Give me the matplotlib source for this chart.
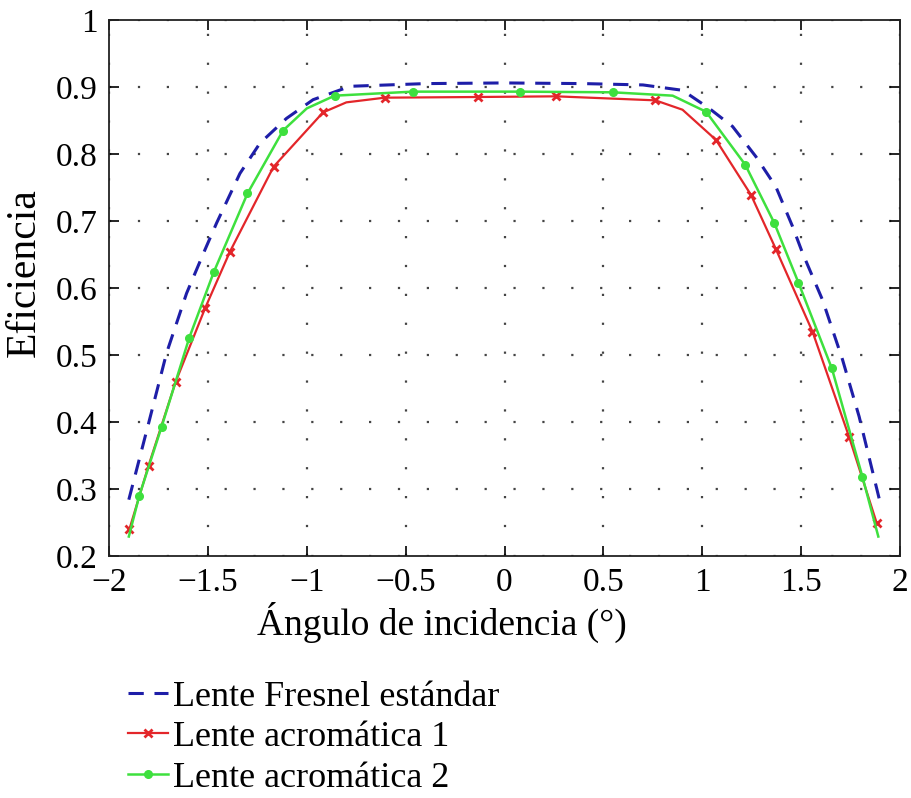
import matplotlib
matplotlib.use("Agg")
import matplotlib.pyplot as plt

plt.rcParams['font.family'] = ['Liberation Serif', 'DejaVu Serif']

# Lente Fresnel estandar (blue dashed)
x_fresnel = [-1.90, -1.80, -1.709, -1.608, -1.515, -1.456, -1.338, -1.237, -1.103, -0.968,
             -0.78, -0.40, 0.0, 0.40, 0.70, 0.90, 1.035, 1.153, 1.271, 1.372,
             1.456, 1.507, 1.608, 1.709, 1.793, 1.894]
y_fresnel = [0.284, 0.398, 0.503, 0.592, 0.657, 0.697, 0.771, 0.816, 0.853, 0.881,
             0.901, 0.905, 0.906, 0.905, 0.903, 0.895, 0.868, 0.841, 0.796, 0.751,
             0.692, 0.652, 0.582, 0.493, 0.408, 0.286]

# Lente acromatica 1 (red, x markers)
x_acro1 = [-1.897, -1.80, -1.663, -1.514, -1.389, -1.168, -0.918, -0.80, -0.606, -0.135,
           0.261, 0.763, 0.90, 1.069, 1.246, 1.372, 1.557, 1.742, 1.882]
y_acro1 = [0.240, 0.335, 0.460, 0.570, 0.654, 0.781, 0.862, 0.877, 0.884, 0.885,
           0.886, 0.880, 0.866, 0.821, 0.739, 0.658, 0.535, 0.378, 0.249]
marks_acro1 = [0, 1, 2, 3, 4, 5, 6, 8, 9, 10, 11, 13, 14, 15, 16, 17, 18]

# Lente acromatica 2 (green, circle markers)
x_acro2 = [-1.90, -1.847, -1.734, -1.594, -1.470, -1.30, -1.12, -1.00, -0.859, -0.463,
           0.076, 0.547, 0.85, 1.019, 1.217, 1.364, 1.486, 1.655, 1.81, 1.89]
y_acro2 = [0.229, 0.290, 0.393, 0.526, 0.624, 0.741, 0.835, 0.868, 0.887, 0.893,
           0.893, 0.892, 0.887, 0.863, 0.784, 0.697, 0.608, 0.480, 0.318, 0.229]
marks_acro2 = [1, 2, 3, 4, 5, 6, 8, 9, 10, 11, 13, 14, 15, 16, 17, 18]

fig = plt.figure(figsize=(9.11, 7.98), dpi=100)
ax = fig.add_axes([0.1197, 0.3033, 0.8683, 0.6717])

ax.plot(x_fresnel, y_fresnel, '--', color='#1e1ea8', lw=2.2, dashes=(5, 3.5),
        label='Lente Fresnel estándar')
ax.plot(x_acro1, y_acro1, '-', color='#e3262a', lw=1.6, marker='x', ms=6, mew=2,
        markevery=marks_acro1, label='Lente acromática 1')
ax.plot(x_acro2, y_acro2, '-', color='#3ee03e', lw=1.8, marker='o', ms=5.5,
        markevery=marks_acro2, label='Lente acromática 2')

ax.set_xlim(-2, 2)
ax.set_ylim(0.2, 1.0)
ax.set_xticks([-2, -1.5, -1, -0.5, 0, 0.5, 1, 1.5, 2])
ax.set_xticklabels(['\u22122', '\u22121.5', '\u22121', '\u22120.5', '0', '0.5', '1', '1.5', '2'])
ax.set_yticks([0.2, 0.3, 0.4, 0.5, 0.6, 0.7, 0.8, 0.9, 1.0])
ax.set_yticklabels(['0.2', '0.3', '0.4', '0.5', '0.6', '0.7', '0.8', '0.9', '1'])
ax.tick_params(direction='in', length=7, width=1.2, labelsize=24, top=True, right=True, pad=8)
ax.grid(True, linestyle=(0, (1, 12)), color='#444444', lw=1.6)
for s in ax.spines.values():
    s.set_linewidth(1.3)
    s.set_color('#222222')

ax.set_xlabel('Ángulo de incidencia (°)', fontsize=27, labelpad=4)
ax.xaxis.set_label_coords(0.421, -0.085)
ax.set_ylabel('Eficiencia', fontsize=30)
ax.yaxis.set_label_coords(-0.083, 0.528)

leg = ax.legend(loc='upper left', bbox_to_anchor=(0.024, -0.232), frameon=False,
                fontsize=26, handlelength=1.1, handletextpad=0.15, labelspacing=0.2,
                borderaxespad=0, borderpad=0)

fig.savefig('out.png', dpi=100)
